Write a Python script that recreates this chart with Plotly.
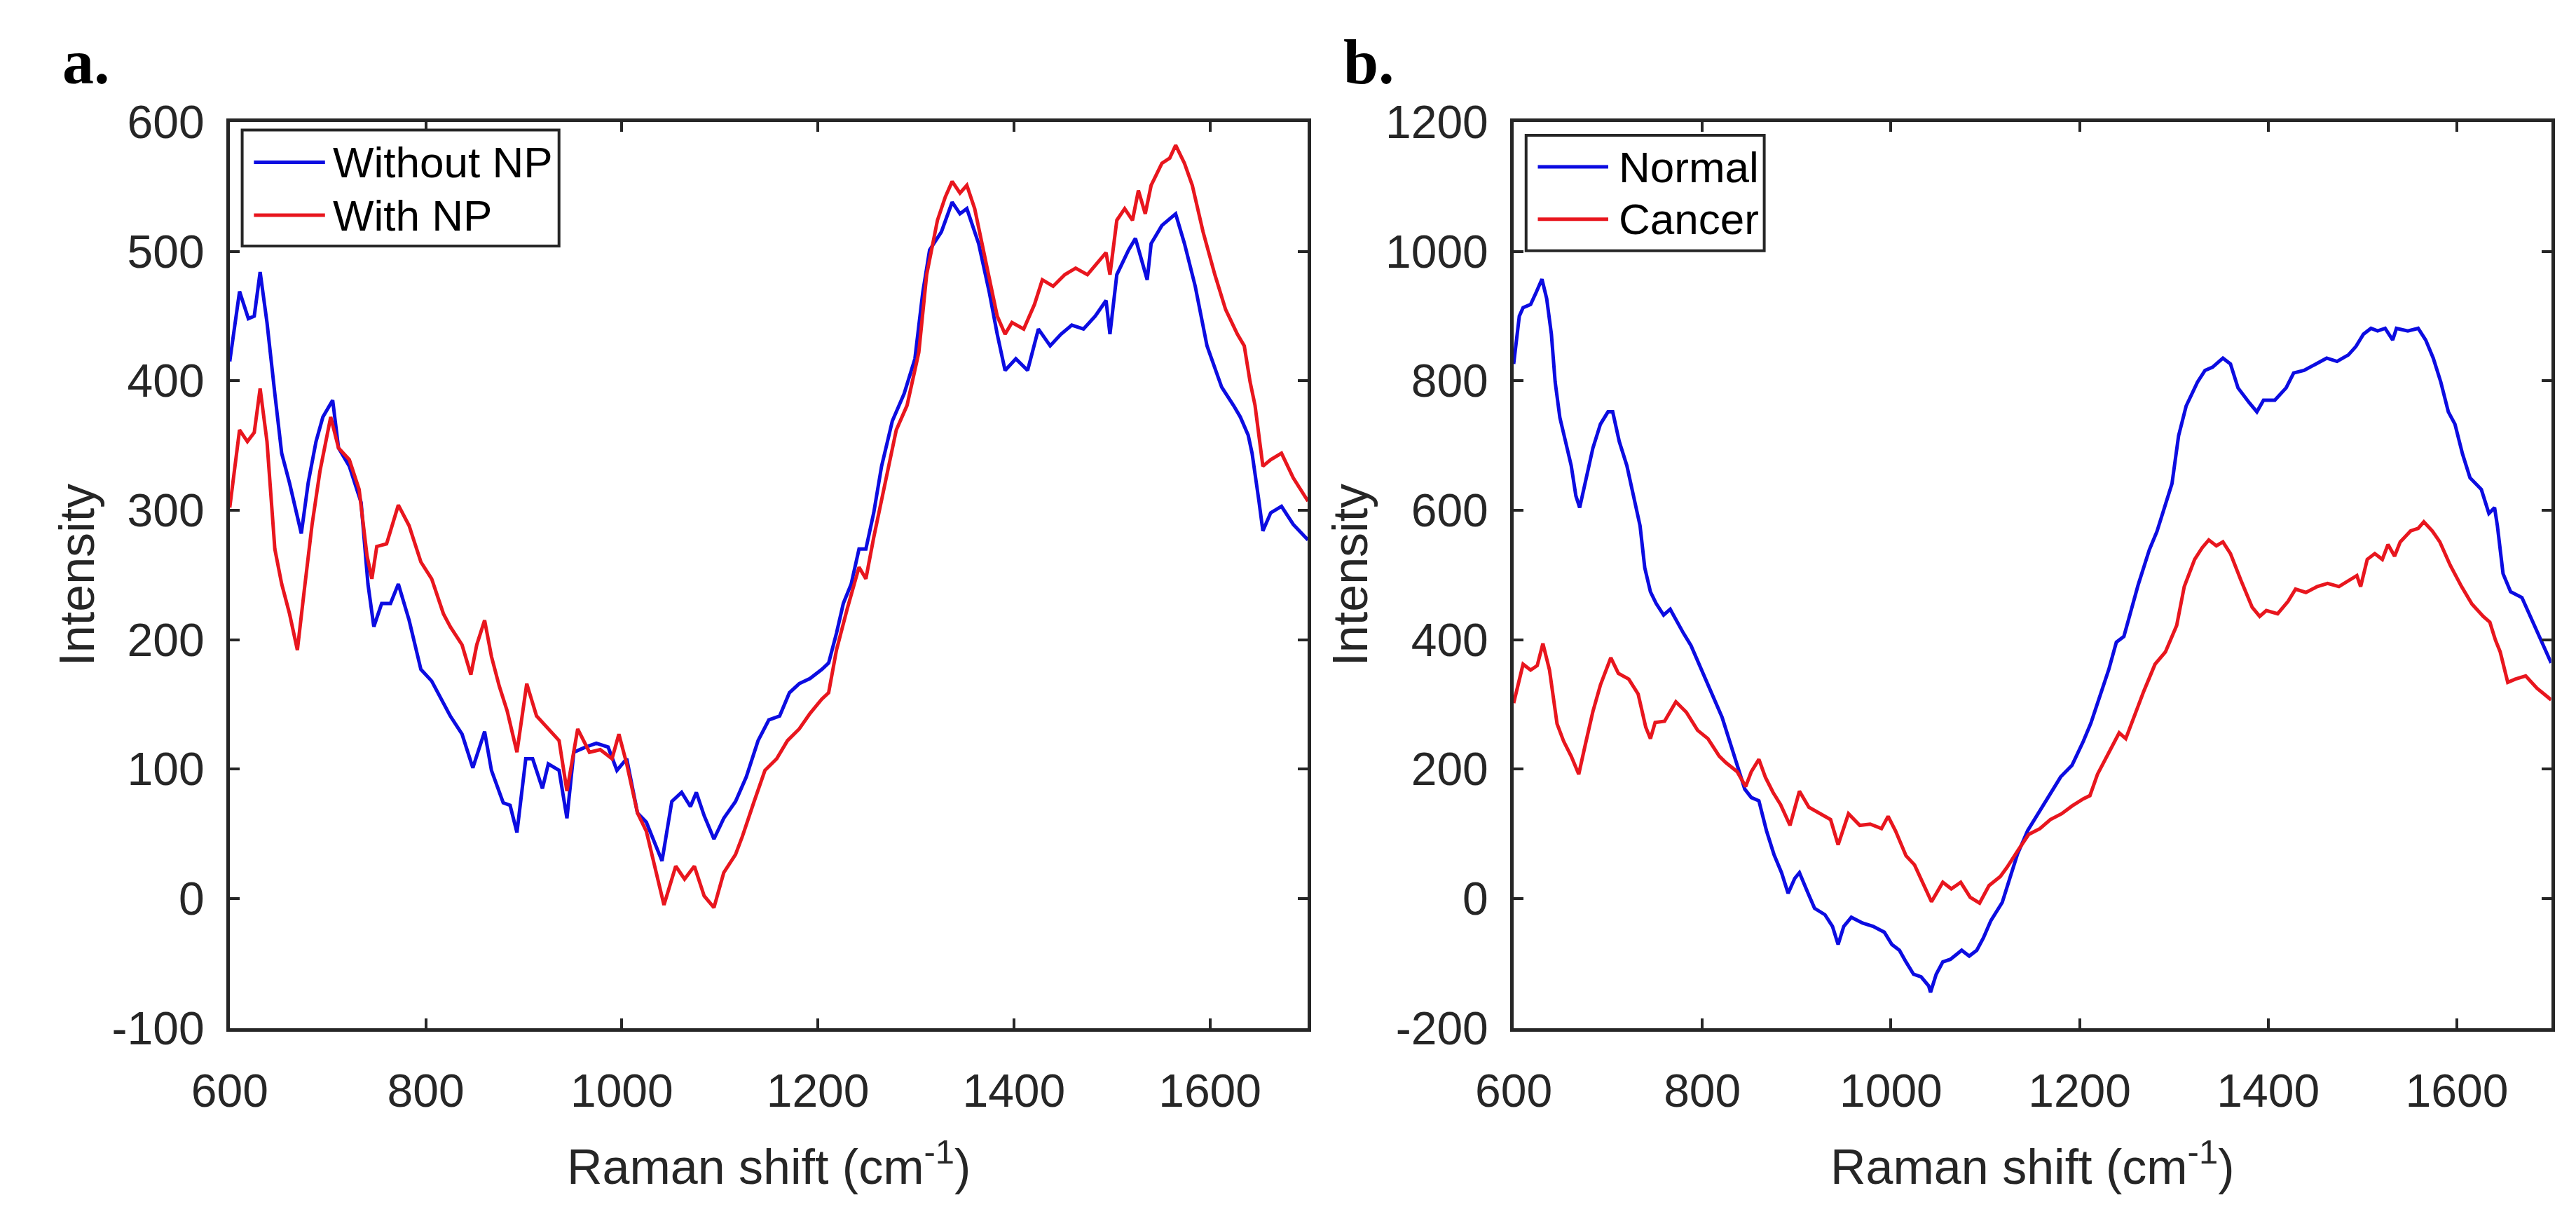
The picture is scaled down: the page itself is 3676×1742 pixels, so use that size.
import plotly.graph_objects as go

# ---- data ----
# panel a: spectra without / with nanoparticles
x_without_np = [600, 610, 619, 625, 631, 638, 646, 653, 661, 669, 673, 680, 688, 695, 705, 711, 722, 734, 741, 747,
                755, 764, 772, 783, 795, 806, 818, 825, 837, 848, 860, 867, 879, 886, 893, 902, 909, 919, 925, 936,
                944, 951, 963, 974, 986, 995, 1005, 1016, 1025, 1032, 1041, 1051, 1061, 1070, 1076, 1084, 1094, 1104,
                1116, 1127, 1139, 1150, 1161, 1171, 1181, 1192, 1204, 1211, 1219, 1226, 1234, 1242, 1249, 1257, 1265,
                1276, 1288, 1299, 1307, 1314, 1326, 1337, 1345, 1352, 1364, 1375, 1383, 1391, 1402, 1414, 1425, 1437,
                1448, 1459, 1471, 1483, 1494, 1498, 1505, 1517, 1524, 1536, 1540, 1551, 1565, 1574, 1585, 1597, 1612,
                1624, 1631, 1639, 1643, 1650, 1654, 1662, 1673, 1685, 1700]
without_np = [415, 469, 448, 450, 484, 445, 390, 344, 321, 293, 282, 321, 353, 372, 385, 348, 334, 306, 243, 210,
              228, 228, 243, 215, 177, 168, 150, 141, 127, 101, 129, 99, 74, 72, 51, 108, 108, 85, 104, 99,
              62, 113, 117, 120, 117, 99, 108, 66, 59, 46, 29, 75, 82, 71, 82, 64, 46, 62,
              75, 94, 122, 138, 141, 159, 166, 170, 177, 182, 205, 228, 243, 270, 270, 298, 334,
              369, 390, 417, 468, 501, 515, 538, 529, 533, 506, 468, 436, 408, 417, 408, 440, 427,
              436, 443, 440, 450, 462, 436, 482, 501, 510, 478, 506, 520, 529, 506, 473, 427, 395,
              381, 372, 358, 344, 307, 284, 298, 303, 289, 277]

x_with_np = [600, 610, 618, 625, 631, 638, 646, 653, 661, 669, 676, 684, 692, 703, 711, 722, 732, 740, 745, 750,
             760, 772, 783, 795, 806, 818, 825, 837, 846, 852, 860, 867, 875, 883, 893, 903, 913, 925, 936, 944,
             955, 967, 978, 990, 997, 1005, 1016, 1025, 1035, 1043, 1055, 1064, 1074, 1084, 1094, 1104, 1116, 1123,
             1135, 1146, 1158, 1169, 1181, 1192, 1204, 1211, 1219, 1230, 1242, 1249, 1257, 1268, 1280, 1291, 1303,
             1311, 1322, 1330, 1337, 1345, 1352, 1360, 1371, 1383, 1391, 1398, 1410, 1421, 1429, 1440, 1452, 1463,
             1475, 1486, 1494, 1498, 1505, 1513, 1521, 1527, 1534, 1540, 1551, 1559, 1565, 1574, 1582, 1593, 1605,
             1616, 1628, 1635, 1641, 1646, 1654, 1662, 1673, 1685, 1700]
with_np = [302, 362, 353, 360, 394, 353, 270, 243, 220, 192, 238, 289, 330, 372, 348, 339, 316, 265, 247, 272,
           274, 304, 288, 260, 247, 220, 210, 196, 173, 196, 215, 187, 164, 145, 113, 166, 141, 131, 122, 83,
           131, 113, 115, 108, 127, 104, 66, 52, 20, -5, 25, 15, 25, 2, -7, 20, 34, 48,
           75, 99, 108, 122, 131, 143, 154, 159, 192, 224, 256, 247, 279, 320, 362, 381, 422,
           482, 524, 542, 554, 545, 551, 533, 492, 450, 436, 445, 440, 459, 478, 473, 482, 487,
           482, 492, 499, 482, 524, 533, 524, 547, 529, 551, 568, 572, 582, 568, 551, 515, 482,
           455, 436, 427, 399, 381, 334, 339, 344, 325, 307]

# panel b: normal / cancer tissue (the cancer spectrum is the "with NP" one)
x_normal = [600, 606, 610, 618, 624, 630, 635, 640, 644, 649, 655, 661, 666, 670, 677, 684, 692, 700, 705, 712,
            720, 727, 734, 739, 745, 751, 759, 766, 773, 780, 788, 796, 805, 813, 821, 829, 837, 845, 852, 860,
            868, 876, 884, 891, 898, 903, 911, 919, 930, 938, 944, 950, 958, 970, 981, 993, 1001, 1009, 1016,
            1024, 1032, 1040, 1042, 1048, 1055, 1063, 1075, 1083, 1091, 1098, 1106, 1118, 1126, 1134, 1145, 1157,
            1169, 1180, 1192, 1204, 1212, 1223, 1231, 1239, 1247, 1255, 1262, 1274, 1282, 1290, 1298, 1305, 1313,
            1325, 1333, 1341, 1352, 1360, 1368, 1380, 1388, 1395, 1407, 1419, 1427, 1438, 1450, 1462, 1473, 1485,
            1493, 1501, 1509, 1516, 1524, 1532, 1536, 1548, 1559, 1567, 1575, 1583, 1591, 1598, 1606, 1614, 1626,
            1634, 1640, 1643, 1649, 1657, 1669, 1680, 1688, 1700]
normal = [826, 900, 913, 918, 937, 957, 927, 872, 798, 743, 706, 669, 622, 604, 650, 696, 733, 752, 752, 706,
          669, 622, 576, 511, 474, 456, 438, 447, 428, 410, 391, 364, 336, 308, 280, 243, 206, 169, 156, 151,
          105, 68, 40, 8, 31, 40, 12, -15, -25, -43, -71, -43, -29, -38, -43, -52, -71, -80, -98,
          -117, -121, -135, -145, -117, -98, -94, -80, -89, -80, -61, -34, -6, 31, 68, 105, 133,
          160, 188, 206, 243, 271, 317, 354, 396, 405, 447, 484, 539, 567, 604, 641, 715, 761,
          798, 816, 821, 835, 826, 789, 766, 752, 770, 770, 789, 812, 816, 826, 835, 830, 840,
          853, 872, 881, 877, 881, 863, 881, 877, 881, 863, 835, 798, 752, 733, 687, 650, 632,
          595, 604, 576, 502, 474, 465, 428, 401, 364]
x_cancer = x_with_np
cancer = with_np

names_a = ["Without NP", "With NP"]
names_b = ["Normal", "Cancer"]
xticks = [600, 800, 1000, 1200, 1400, 1600]
xtick_labels = ["600", "800", "1000", "1200", "1400", "1600"]
yticks_a = [-100, 0, 100, 200, 300, 400, 500, 600]
ytick_labels_a = ["-100", "0", "100", "200", "300", "400", "500", "600"]
yticks_b = [-200, 0, 200, 400, 600, 800, 1000, 1200]
ytick_labels_b = ["-200", "0", "200", "400", "600", "800", "1000", "1200"]

# ---- figure ----
W, H = 3676, 1742
BLUE = "rgb(12,12,225)"
RED = "rgb(232,22,30)"
INK = "#262626"
FONT = "Liberation Sans"


def px(x):
    return x / W


def py(y):
    return 1 - y / H


fig = go.Figure()
fig.add_trace(go.Scatter(x=x_without_np, y=without_np, name=names_a[0], mode="lines",
                         line=dict(color=BLUE, width=5), xaxis="x", yaxis="y"))
fig.add_trace(go.Scatter(x=x_with_np, y=with_np, name=names_a[1], mode="lines",
                         line=dict(color=RED, width=5), xaxis="x", yaxis="y"))
fig.add_trace(go.Scatter(x=x_normal, y=normal, name=names_b[0], mode="lines",
                         line=dict(color=BLUE, width=5), xaxis="x2", yaxis="y2"))
fig.add_trace(go.Scatter(x=x_cancer, y=cancer, name=names_b[1], mode="lines",
                         line=dict(color=RED, width=5), xaxis="x2", yaxis="y2"))

axis_style = dict(showline=True, linewidth=5, linecolor=INK, mirror="ticks", ticks="inside",
                  ticklen=14, tickwidth=4, tickcolor=INK, showgrid=False, zeroline=False,
                  tickfont=dict(family=FONT, size=66, color=INK))
xtitle = dict(text="Raman shift (cm<sup>-1</sup>)", font=dict(family=FONT, size=70, color=INK), standoff=50)
ytitle = dict(text="Intensity", font=dict(family=FONT, size=70, color=INK), standoff=4)

fig.update_layout(
    width=W, height=H, autosize=False, showlegend=False,
    margin=dict(l=0, r=0, t=0, b=0),
    paper_bgcolor="white", plot_bgcolor="white",
    xaxis=dict(domain=[px(277), px(1839)], range=[600, 1700], tickvals=xticks, ticktext=xtick_labels,
               anchor="y", title=xtitle, ticklabelstandoff=28, **axis_style),
    yaxis=dict(domain=[py(1493), py(143)], range=[-100, 600], tickvals=yticks_a, ticktext=ytick_labels_a,
               anchor="x", title=ytitle, ticklabelstandoff=18, **axis_style),
    xaxis2=dict(domain=[px(2137), px(3640)], range=[600, 1700], tickvals=xticks, ticktext=xtick_labels,
                anchor="y2", title=xtitle, ticklabelstandoff=28, **axis_style),
    yaxis2=dict(domain=[py(1493), py(143)], range=[-200, 1200], tickvals=yticks_b, ticktext=ytick_labels_b,
                anchor="x2", title=ytitle, ticklabelstandoff=18, **axis_style),
)

# legends drawn as boxes in the upper-left corner of each panel
shapes = []
annotations = []
legends = [
    (dict(x0=295, x1=754, y0=155, y1=328, rows=(203, 282), lx=(312, 415), tx=424), names_a),
    (dict(x0=2155, x1=2500, y0=163, y1=335, rows=(210, 288), lx=(2172, 2274), tx=2287), names_b),
]
for box, names in legends:
    shapes.append(dict(type="rect", xref="paper", yref="paper", x0=px(box["x0"]), x1=px(box["x1"]),
                       y0=py(box["y1"]), y1=py(box["y0"]), line=dict(color=INK, width=4),
                       fillcolor="white", layer="above"))
    for row, name, color in zip(box["rows"], names, [BLUE, RED]):
        shapes.append(dict(type="line", xref="paper", yref="paper", x0=px(box["lx"][0]), x1=px(box["lx"][1]),
                           y0=py(row), y1=py(row), line=dict(color=color, width=5), layer="above"))
        annotations.append(dict(xref="paper", yref="paper", x=px(box["tx"]), y=py(row), xanchor="left",
                                yanchor="middle", showarrow=False, text=name,
                                font=dict(family=FONT, size=62, color="black")))

# panel letters
for letter, left in [("a.", 32), ("b.", 1888)]:
    annotations.append(dict(xref="paper", yref="paper", x=px(left), y=py(108), xanchor="left",
                            yanchor="bottom", showarrow=False, text="<b>" + letter + "</b>",
                            font=dict(family="Liberation Serif", size=90, color="black")))

fig.update_layout(shapes=shapes, annotations=annotations)

fig.write_html("out.html", config={"displayModeBar": False},
               post_script="document.body.style.margin='0';")
